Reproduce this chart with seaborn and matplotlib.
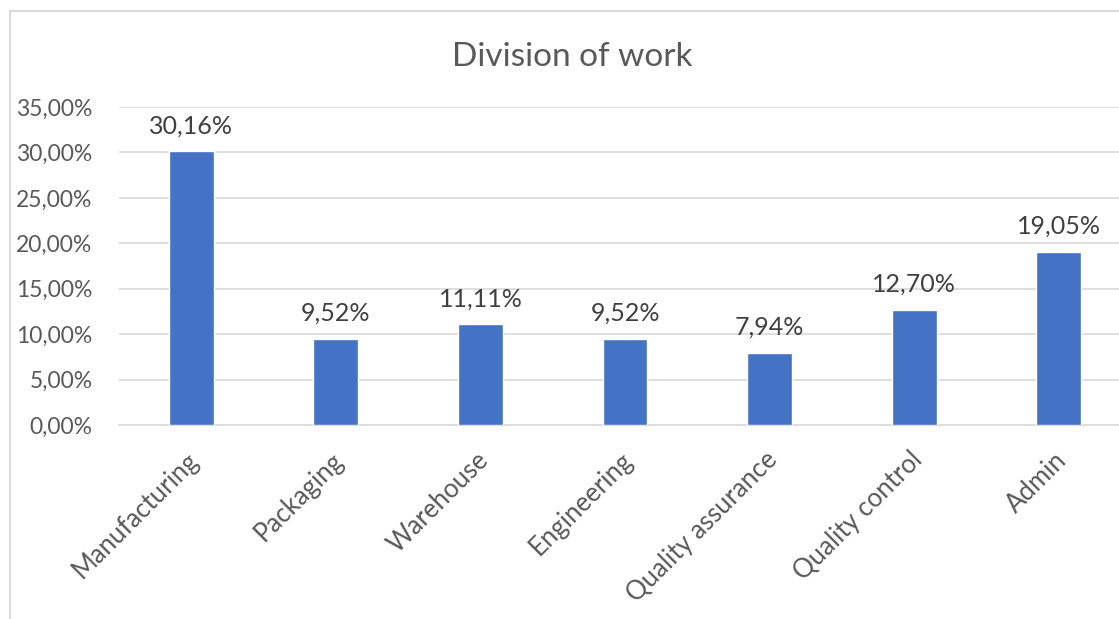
import matplotlib
matplotlib.use("Agg")
import matplotlib.pyplot as plt
import matplotlib.transforms as mtransforms
import seaborn as sns
import pandas as pd
from matplotlib.patches import Rectangle

categories = ["Manufacturing", "Packaging", "Warehouse", "Engineering",
              "Quality assurance", "Quality control", "Admin"]
values = [30.16, 9.52, 11.11, 9.52, 7.94, 12.70, 19.05]
y_ticks = [0, 5, 10, 15, 20, 25, 30, 35]

sns.set_theme(style="white")
plt.rcParams['font.family'] = ['Lato', 'DejaVu Sans']

W, H = 1119, 619
fig = plt.figure(figsize=(W / 100, H / 100), dpi=100)

# chart border
fig.patches.append(Rectangle((10 / W, -0.1), 1.2, (H - 11) / H + 0.1,
                             transform=fig.transFigure, fill=False,
                             edgecolor="#d9d9d9", linewidth=1.5))

left, right = 119 / W, 1131 / W
bottom, top = 1 - 425 / H, 1 - 107 / H
ax = fig.add_axes([left, bottom, right - left, top - bottom])

df = pd.DataFrame({"cat": categories, "val": values})
sns.barplot(data=df, x="cat", y="val", color="#4472C4", width=0.31,
            saturation=1, ax=ax, zorder=3)

ax.set_ylim(0, 35)
ax.set_yticks(y_ticks)
ax.set_yticklabels([f"{t:.2f}%".replace(".", ",") for t in y_ticks],
                   fontsize=16.5, color="#595959")
ax.set_xticks(range(len(categories)))
ax.set_xticklabels(categories, rotation=45, ha="right", rotation_mode="anchor",
                   fontsize=18.5, color="#595959")
ax.tick_params(axis="x", length=0, pad=16)
ax.tick_params(axis="y", length=0, pad=19)
shift = mtransforms.ScaledTranslation(-5 / 100, 0, fig.dpi_scale_trans)
for lbl in ax.get_xticklabels():
    lbl.set_transform(lbl.get_transform() + shift)
ax.set_xlim(-0.5, len(categories) - 0.5)
ax.grid(axis="y", color="#d9d9d9", linewidth=1.2, zorder=0)
ax.set_axisbelow(True)
for s in ["top", "right", "left"]:
    ax.spines[s].set_visible(False)
ax.spines["bottom"].set_color("#d9d9d9")
ax.spines["bottom"].set_linewidth(1.2)
ax.set_xlabel("")
ax.set_ylabel("")

for i, v in enumerate(values):
    ax.annotate(f"{v:.2f}%".replace(".", ","), (i, v), xytext=(0, 10),
                textcoords="offset points", ha="center", va="bottom",
                fontsize=18, color="#404040")

fig.text(572 / W, 1 - 57 / H, "Division of work", ha="center", va="center",
         fontsize=24, color="#595959")

fig.savefig("out.png", dpi=100)
